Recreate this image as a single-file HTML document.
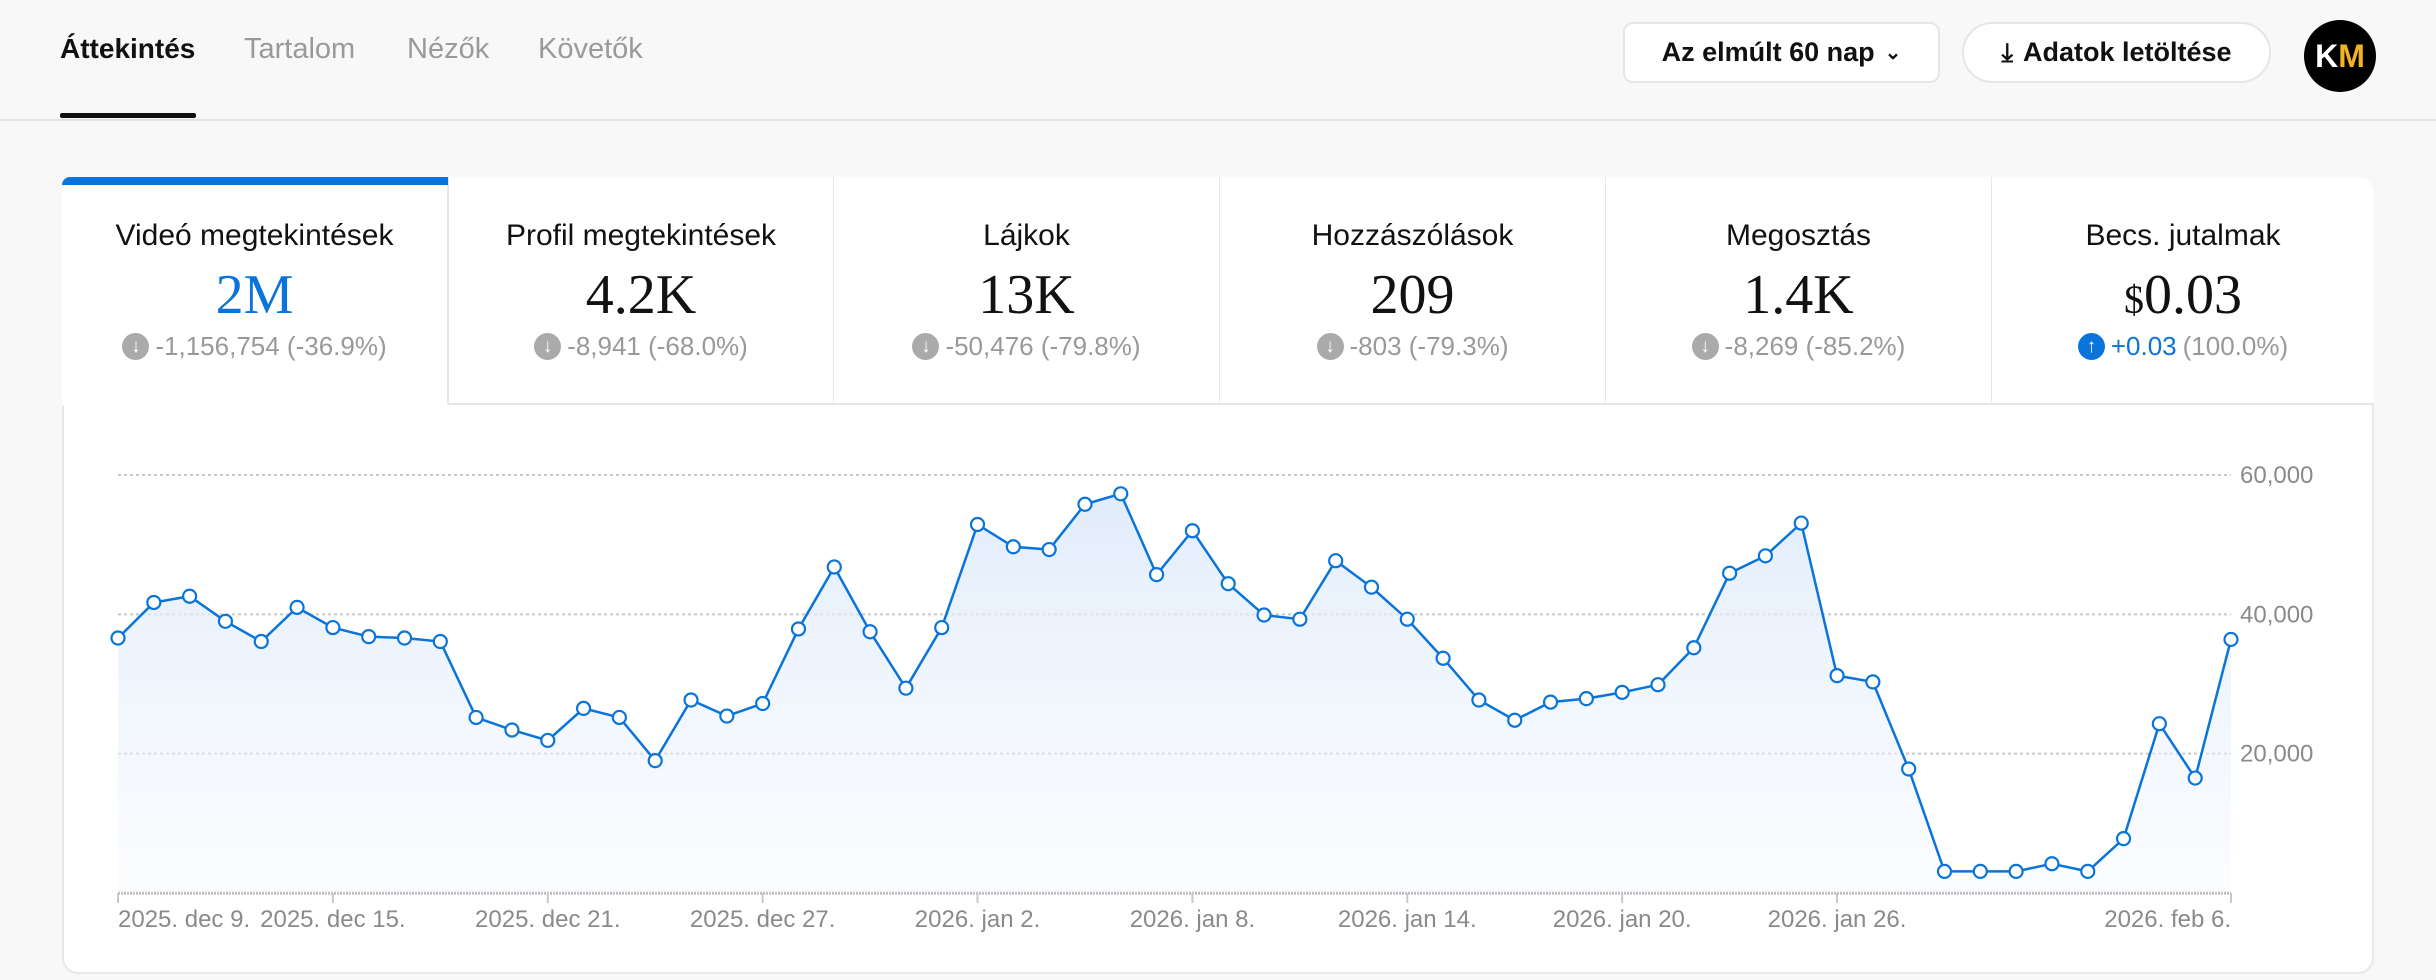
<!DOCTYPE html>
<html><head><meta charset="utf-8">
<style>
*{box-sizing:border-box;margin:0;padding:0}
body{width:2436px;height:980px;background:#f8f8f8;font-family:"Liberation Sans",sans-serif;position:relative;overflow:hidden}
.abs{position:absolute}
.tab{position:absolute;top:33px;font-size:29px;color:#9a9a9a}
.btn{position:absolute;top:22px;height:61px;border:2px solid #e6e6e6;background:#fff;border-radius:10px;font-size:27px;font-weight:bold;color:#111;display:flex;align-items:center;justify-content:center;gap:10px}
.mt{position:absolute;top:177px;height:228px;width:386px;text-align:center;border-right:1px solid #e8e8e8;border-bottom:2px solid #e6e6e6;background:#fff}
.mt .t{position:absolute;top:42px;left:0;right:0;font-size:30px;color:#111}
.mt .v{position:absolute;top:86px;left:0;right:0;font-family:"Liberation Serif",serif;font-size:56px;color:#111}
.mt .d{position:absolute;top:154px;left:0;right:0;font-size:26px;color:#999;display:flex;justify-content:center;align-items:center;gap:6px}
.ic{width:27px;height:27px;border-radius:50%;background:#aaa;color:#fff;font-size:19px;line-height:27px;text-align:center;font-weight:bold}
</style></head><body>
<div class="abs" style="left:0;top:0;width:2436px;height:121px;border-bottom:2px solid #e4e4e4"></div>
<div class="tab" style="left:60px;color:#111;font-weight:bold;font-size:28px">Áttekintés</div>
<div class="abs" style="left:60px;top:113px;width:136px;height:5px;background:#111;border-radius:2px"></div>
<div class="tab" style="left:244px">Tartalom</div>
<div class="tab" style="left:407px">Nézők</div>
<div class="tab" style="left:538px">Követők</div>
<div class="btn" style="left:1623px;width:317px">Az elmúlt 60 nap <span style="font-size:20px">&#8964;</span></div>
<div class="btn" style="left:1962px;width:309px;border-radius:31px"><span style="font-size:26px">&#10515;</span>Adatok letöltése</div>
<div class="abs" style="left:2304px;top:20px;width:72px;height:72px;border-radius:50%;background:#000;color:#fff;font-size:32px;font-weight:bold;text-align:center;line-height:72px">K<span style="color:#f0b323">M</span></div>

<div class="abs" style="left:62px;top:177px;width:2312px;height:797px;background:#fff;border:2px solid #e8e8e8;border-radius:16px;overflow:hidden"></div>
<div class="mt" style="left:62px;border-bottom:none;border-top-left-radius:16px"><div class="abs" style="left:0;top:0;width:386px;height:8px;background:#0a74da;border-top-left-radius:12px"></div><div class="t">Videó megtekintések</div><div class="v" style="color:#0a74da">2M</div><div class="d"><span class="ic">&#8595;</span>-1,156,754 (-36.9%)</div></div>
<div class="mt" style="left:448px;border-left:1px solid #e6e6e6"><div class="t">Profil megtekintések</div><div class="v">4.2K</div><div class="d"><span class="ic">&#8595;</span>-8,941 (-68.0%)</div></div>
<div class="mt" style="left:834px"><div class="t">Lájkok</div><div class="v">13K</div><div class="d"><span class="ic">&#8595;</span>-50,476 (-79.8%)</div></div>
<div class="mt" style="left:1220px"><div class="t">Hozzászólások</div><div class="v">209</div><div class="d"><span class="ic">&#8595;</span>-803 (-79.3%)</div></div>
<div class="mt" style="left:1606px"><div class="t">Megosztás</div><div class="v">1.4K</div><div class="d"><span class="ic">&#8595;</span>-8,269 (-85.2%)</div></div>
<div class="mt" style="left:1992px;width:382px;border-right:none;border-top-right-radius:16px"><div class="t">Becs. jutalmak</div><div class="v"><span style="font-size:40px">$</span>0.03</div><div class="d"><span class="ic" style="background:#0a74da">&#8593;</span><span style="color:#0a74da">+0.03</span> (100.0%)</div></div>

<svg class="abs" style="left:0;top:0" width="2436" height="980" id="chart">
<defs><linearGradient id="g" x1="0" y1="0" x2="0" y2="1"><stop offset="0" stop-color="#dce9fa" stop-opacity="0.85"/><stop offset="1" stop-color="#f4f8fe" stop-opacity="0.4"/></linearGradient></defs>
</svg>
<script>
const values=[36600,41700,42600,39000,36100,41000,38100,36800,36600,36100,25200,23400,21900,26500,25200,19000,27700,25400,27200,37900,46800,37500,29400,38100,52900,49700,49300,55800,57300,45700,52000,44400,39900,39300,47700,43900,39300,33700,27700,24800,27400,27900,28800,29900,35200,45900,48400,53100,31200,30300,17800,3100,3100,3100,4200,3100,7800,24300,16500,36400];
const xTickIdx=[0,6,12,18,24,30,36,42,48,59];
const xTickLabels=["2025. dec 9.","2025. dec 15.","2025. dec 21.","2025. dec 27.","2026. jan 2.","2026. jan 8.","2026. jan 14.","2026. jan 20.","2026. jan 26.","2026. feb 6."];
const yTicks=[20000,40000,60000];
const yTickLabels=["20,000","40,000","60,000"];
const NS="http://www.w3.org/2000/svg",svg=document.getElementById('chart');
const X0=118,X1=2231,Y0=893,Y60=475;
const x=i=>X0+(X1-X0)*i/(values.length-1);
const y=v=>Y0-(Y0-Y60)*v/60000;
function mk(t,a){const e=document.createElementNS(NS,t);for(const k in a)e.setAttribute(k,a[k]);svg.appendChild(e);return e;}
yTicks.forEach((v,i)=>{
 const l=mk('line',{x1:X0,x2:X1,y1:y(v),y2:y(v),stroke:'#c8c8c8','stroke-width':2,'stroke-dasharray':'3 3'});
 
 
 const t=mk('text',{x:2240,y:y(v)+8,'font-size':24,fill:'#8a8a8a','font-family':'Liberation Sans'});
 t.textContent=yTickLabels[i];
 
 
});
const ax=mk('line',{x1:X0,x2:X1,y1:Y0,y2:Y0,stroke:'#b0b0b0','stroke-width':3,'stroke-dasharray':'2 1'});


xTickIdx.forEach((idx,i)=>{
 const tk=mk('line',{x1:x(idx),x2:x(idx),y1:Y0,y2:Y0+10,stroke:'#c8c8c8','stroke-width':2});
 
 
 const anchor=i==0?'start':(i==xTickIdx.length-1?'end':'middle');
 const t=mk('text',{x:x(idx),y:927,'font-size':24,fill:'#8a8a8a','text-anchor':anchor,'font-family':'Liberation Sans'});
 t.textContent=xTickLabels[i];
 
 
});
let d=values.map((v,i)=>(i?'L':'M')+x(i)+','+y(v)).join('');
const area=mk('path',{d:d+'L'+x(values.length-1)+','+Y0+'L'+X0+','+Y0+'Z',fill:'url(#g)'});


const line=mk('path',{d:d,fill:'none',stroke:'#0a74da','stroke-width':2.5});


values.forEach((v,i)=>{
 const c=mk('circle',{cx:x(i),cy:y(v),r:6.5,fill:'#fff',stroke:'#0a74da','stroke-width':2.2});
 
 
});
</script>
</body></html>
